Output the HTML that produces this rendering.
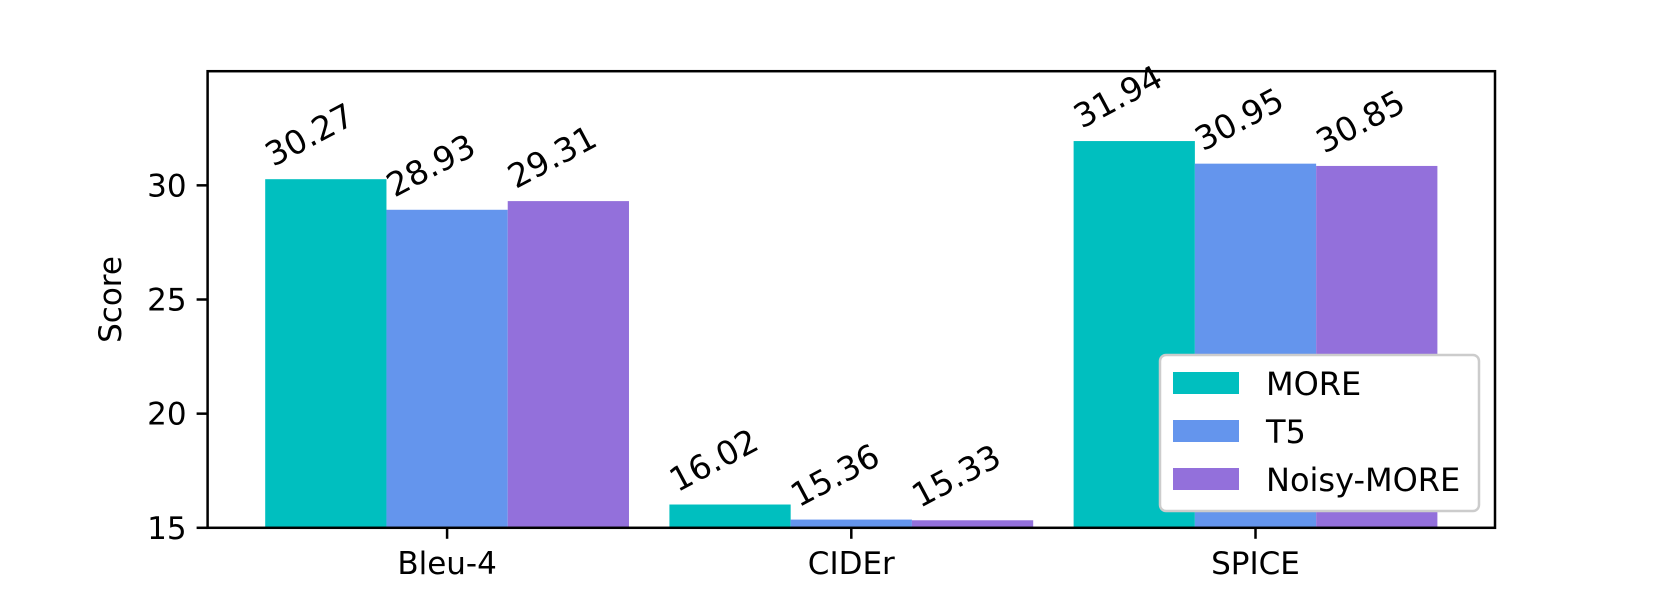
<!DOCTYPE html>
<html><head><meta charset="utf-8"><style>
html,body{margin:0;padding:0;background:#fff;}
svg{display:block;font-family:"DejaVu Sans","Liberation Sans",sans-serif;}
</style></head><body>
<svg id="chart" width="1661" height="593" viewBox="0 0 1661 593"></svg>
<script>
const categories = ["Bleu-4", "CIDEr", "SPICE"];
const seriesNames = ["MORE", "T5", "Noisy-MORE"];
const moreValues = [30.27, 16.02, 31.94];
const t5Values = [28.93, 15.36, 30.95];
const noisyValues = [29.31, 15.33, 30.85];
const yTicks = [15, 20, 25, 30];

const colors = ["#00bfbf", "#6495ed", "#9370db"];
const series = [moreValues, t5Values, noisyValues];
const L = 207.6, R = 1495, T = 71.2, B = 527.8;
const xmin = -0.5925, xmax = 2.5925, ymin = 15, ymax = 35;
const xs = v => L + (v - xmin) / (xmax - xmin) * (R - L);
const ys = v => B - (v - ymin) / (ymax - ymin) * (B - T);
const NS = "http://www.w3.org/2000/svg";
const svg = document.getElementById("chart");
function mk(tag, attrs, parent) {
  const e = document.createElementNS(NS, tag);
  for (const k in attrs) e.setAttribute(k, attrs[k]);
  (parent || svg).appendChild(e);
  return e;
}
const bw = 0.3;
series.forEach((vals, s) => {
  vals.forEach((v, i) => {
    const x0 = xs(i + (s - 1) * bw - bw / 2), x1 = xs(i + (s - 1) * bw + bw / 2);
    const r = mk("rect", {x: x0, y: ys(v), width: x1 - x0, height: ys(ymin) - ys(v), fill: colors[s]});
    
    
    const bx = x0 + 8, by = ys(v) - 12;
    const t = mk("text", {x: bx, y: by, "font-size": 33, fill: "#000", transform: `rotate(-28 ${bx} ${by})`});
    t.textContent = v.toFixed(2);
    
    
  });
});
const frame = mk("rect", {x: L, y: T, width: R - L, height: B - T, fill: "none", stroke: "#000", "stroke-width": 2.5});


yTicks.forEach(v => {
  const y = ys(v);
  mk("line", {x1: L - 11, x2: L, y1: y, y2: y, stroke: "#000", "stroke-width": 2.5});
  const t = mk("text", {x: L - 21, y: y + 11, "font-size": 31, "text-anchor": "end"});
  t.textContent = v;
  
  
});
categories.forEach((c, i) => {
  const x = xs(i);
  mk("line", {x1: x, x2: x, y1: B, y2: B + 11, stroke: "#000", "stroke-width": 2.5});
  const t = mk("text", {x: x, y: 574, "font-size": 31, "text-anchor": "middle"});
  t.textContent = c;
  
  
});
const yl = mk("text", {x: 0, y: 0, "font-size": 31, "text-anchor": "middle", transform: `translate(121 ${(T + B) / 2}) rotate(-90)`});
yl.textContent = "Score";


const lg = mk("g", {});


mk("rect", {x: 1160, y: 355, width: 319, height: 156, rx: 6, fill: "#fff", stroke: "#ccc", "stroke-width": 2.5}, lg);
seriesNames.forEach((n, s) => {
  const cy = 383 + s * 48;
  mk("rect", {x: 1173, y: cy - 11, width: 66, height: 22, fill: colors[s]}, lg);
  const t = mk("text", {x: 1266, y: cy + 12, "font-size": 32}, lg);
  t.textContent = n;
  
  
});
</script>
</body></html>
